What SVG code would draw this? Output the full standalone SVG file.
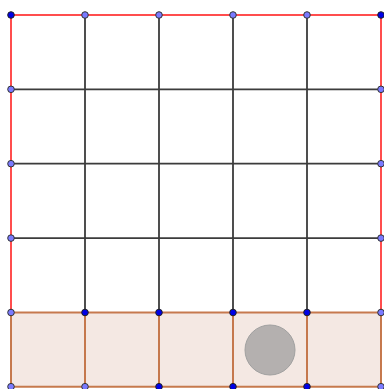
<svg xmlns="http://www.w3.org/2000/svg" width="384" height="389" viewBox="0 0 384 389">
<style>
.grid{stroke:#1a1a1a;stroke-opacity:0.85;stroke-width:1.8;fill:none}
.red{stroke:#ff4d4d;stroke-width:2;fill:none}
.strip{fill:#f4e8e3;stroke:none}
.brown{stroke:#c06c3c;stroke-opacity:0.9;stroke-width:2;fill:none}
.pl{fill:#7a7aff;stroke:#333;stroke-width:1}
.pd{fill:#0000e6;stroke:#222;stroke-width:1}
</style>
<rect width="384" height="389" fill="#fff"/>
<g id="strip"><rect class="strip" x="11" y="312.5" width="370" height="74.2"/></g>
<g id="connectors">
<path class="grid" d="M85 15V312.5M159 15V312.5M233 15V312.5M307 15V312.5M11 89.3H381M11 163.7H381M11 238.1H381"/>
<path class="red" d="M11 15H381M11 15V312.5M381 15V312.5"/>
<path class="brown" d="M11 312.5H381M11 386.7H381M11 312.5V386.7M85 312.5V386.7M159 312.5V386.7M233 312.5V386.7M307 312.5V386.7M381 312.5V386.7"/>
</g>
<g id="disc"><circle cx="270" cy="350" r="25" fill="#adaaa8" fill-opacity="0.9" stroke="#a0a0a0" stroke-width="1"/></g>
<g id="points">
<circle class="pd" cx="11" cy="15" r="3.3"/>
<circle class="pl" cx="85" cy="15" r="3.3"/>
<circle class="pl" cx="159" cy="15" r="3.3"/>
<circle class="pl" cx="233" cy="15" r="3.3"/>
<circle class="pl" cx="307" cy="15" r="3.3"/>
<circle class="pd" cx="381" cy="15" r="3.3"/>
<circle class="pl" cx="11" cy="89.3" r="3.3"/>
<circle class="pl" cx="11" cy="163.7" r="3.3"/>
<circle class="pl" cx="11" cy="238.1" r="3.3"/>
<circle class="pl" cx="381" cy="89.3" r="3.3"/>
<circle class="pl" cx="381" cy="163.7" r="3.3"/>
<circle class="pl" cx="381" cy="238.1" r="3.3"/>
<circle class="pl" cx="11" cy="312.5" r="3.3"/>
<circle class="pd" cx="85" cy="312.5" r="3.3"/>
<circle class="pd" cx="159" cy="312.5" r="3.3"/>
<circle class="pd" cx="233" cy="312.5" r="3.3"/>
<circle class="pd" cx="307" cy="312.5" r="3.3"/>
<circle class="pl" cx="381" cy="312.5" r="3.3"/>
<circle class="pl" cx="11" cy="386.7" r="3.3"/>
<circle class="pl" cx="85" cy="386.7" r="3.3"/>
<circle class="pd" cx="159" cy="386.7" r="3.3"/>
<circle class="pd" cx="233" cy="386.7" r="3.3"/>
<circle class="pd" cx="307" cy="386.7" r="3.3"/>
<circle class="pl" cx="381" cy="386.7" r="3.3"/>
</g>
</svg>
